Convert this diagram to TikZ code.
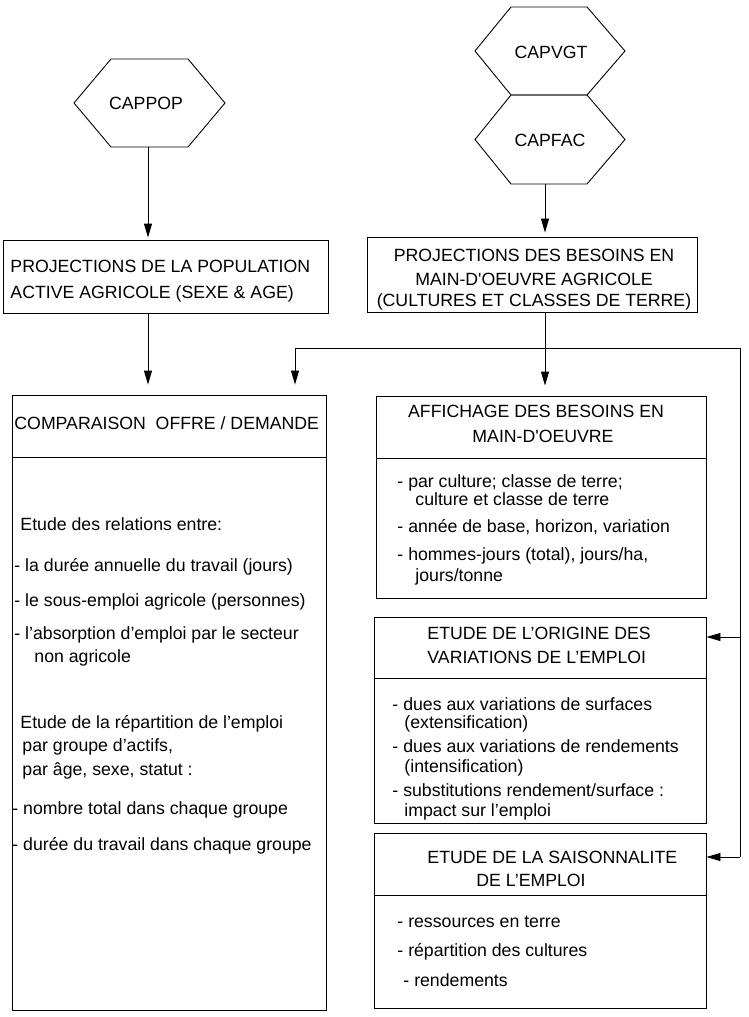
\documentclass[tikz,border=0pt]{standalone}
\usepackage{fontspec}
\setmainfont{Liberation Sans}
\usetikzlibrary{arrows.meta}
\begin{document}
\begin{tikzpicture}[x=1pt,y=-1pt, line width=0.9pt,
  txt/.style={font=\fontsize{17.7}{20}\selectfont, inner sep=0pt},
  lt/.style={txt, anchor=base west},
  ct/.style={txt, anchor=base},
  box/.style={draw, inner sep=0pt},
  arr/.style={-{Triangle[length=14pt,width=8pt]}}]
\useasboundingbox (0,0) rectangle (749,1017);

% hexagons
\draw (74,103) -- (111,59) -- (188,59) -- (225,103) -- (188,147) -- (111,147) -- cycle;
\node[ct] (cappop) at (146,109) {CAPPOP};
\draw (475,51) -- (511,7) -- (587,7) -- (625,51) -- (587,95) -- (511,95) -- cycle;
\node[ct] (capvgt) at (551,58) {CAPVGT};
\draw (475,139.5) -- (511,95) -- (587,95) -- (625,139.5) -- (587,184) -- (511,184) -- cycle;
\node[ct] (capfac) at (550,146) {CAPFAC};
\coordinate (popbot) at (148,147);
\coordinate (facbot) at (545,184);

% boxes
\node[box, minimum width=325, minimum height=73] (popbox) at (165.5,276.5) {};
\node[box, minimum width=330, minimum height=75] (besbox) at (532,274.5) {};
\node[box, minimum width=314, minimum height=615] (compbox) at (169,702.5) {};
\node[box, minimum width=330, minimum height=202] (affbox) at (541,497) {};
\node[box, minimum width=332, minimum height=206] (origbox) at (540,720) {};
\node[box, minimum width=332, minimum height=175] (saisbox) at (540,920.5) {};
\draw (compbox.west |- 0,457) -- (compbox.east |- 0,457);
\draw (affbox.west |- 0,458) -- (affbox.east |- 0,458);
\draw (origbox.west |- 0,678) -- (origbox.east |- 0,678);
\draw (saisbox.west |- 0,895) -- (saisbox.east |- 0,895);

% arrows
\draw[arr, shorten >=2pt] (popbot) -- (popbox.north -| popbot);
\draw[arr, shorten >=4pt] (facbot) -- (besbox.north -| facbot);
\draw[arr, shorten >=10pt] (popbox.south -| 148,0) -- (compbox.north -| 148,0);
\draw[arr, shorten >=10pt] (besbox.south -| 545,0) -- (affbox.north -| 545,0);
\coordinate (fbl) at (295,348);
\coordinate (fbr) at (740,348);
\coordinate (fbo) at (740,637);
\coordinate (fbs) at (740,857);
\draw[arr, shorten >=10pt] (fbr) -- (fbl) -- (compbox.north -| fbl);
\draw (fbr) -- (fbs);
\draw[arr] (fbo) -- (origbox.east |- fbo);
\draw[arr] (fbs) -- (saisbox.east |- fbs);

% texts
\node[lt] (p1) at (10,272) {PROJECTIONS DE LA POPULATION};
\node[lt] (p2) at (10,298) {ACTIVE AGRICOLE (SEXE \& AGE)};
\node[ct] (b1) at (534,261) {PROJECTIONS DES BESOINS EN};
\node[ct] (b2) at (534,285) {MAIN-D\textquotesingle OEUVRE AGRICOLE};
\node[ct] (b3) at (534,306) {(CULTURES ET CLASSES DE TERRE)};

\node[lt] (c0) at (14,429) {COMPARAISON\ \ OFFRE / DEMANDE};
\node[lt] (c1) at (20,530) {Etude des relations entre:};
\node[lt] (c2) at (14,571) {- la durée annuelle du travail (jours)};
\node[lt] (c3) at (14,606) {- le sous-emploi agricole (personnes)};
\node[lt] (c4) at (14,639) {- l’absorption d’emploi par le secteur};
\node[lt] (c5) at (34,662) {non agricole};
\node[lt] (c6) at (20,728) {Etude de la répartition de l’emploi};
\node[lt] (c7) at (22,751) {par groupe d’actifs,};
\node[lt] (c8) at (22,775) {par âge, sexe, statut :};
\node[lt] (c9) at (12,814) {- nombre total dans chaque groupe};
\node[lt] (c10) at (12,850) {- durée du travail dans chaque groupe};

\node[ct] (a1) at (536,417) {AFFICHAGE DES BESOINS EN};
\node[ct] (a2) at (543,442) {MAIN-D\textquotesingle OEUVRE};
\node[lt] (a3) at (397,487) {- par culture; classe de terre;};
\node[lt] (a4) at (415,505) {culture et classe de terre};
\node[lt] (a5) at (397,532) {- année de base, horizon, variation};
\node[lt] (a6) at (397,560) {- hommes-jours (total), jours/ha,};
\node[lt] (a7) at (415,581) {jours/tonne};

\node[lt] (o1) at (427,639) {ETUDE DE L’ORIGINE DES};
\node[lt] (o2) at (427,663) {VARIATIONS DE L’EMPLOI};
\node[lt] (o3) at (392,710) {- dues aux variations de surfaces};
\node[lt] (o4) at (404,728) {(extensification)};
\node[lt] (o5) at (392,752) {- dues aux variations de rendements};
\node[lt] (o6) at (404,772) {(intensification)};
\node[lt] (o7) at (392,796) {- substitutions rendement/surface :};
\node[lt] (o8) at (404,816) {impact sur l’emploi};

\node[lt] (s1) at (427,863) {ETUDE DE LA SAISONNALITE};
\node[lt] (s2) at (476,886) {DE L’EMPLOI};
\node[lt] (s3) at (397,927) {- ressources en terre};
\node[lt] (s4) at (397,956) {- répartition des cultures};
\node[lt] (s5) at (403,986) {- rendements};
\end{tikzpicture}
\end{document}
